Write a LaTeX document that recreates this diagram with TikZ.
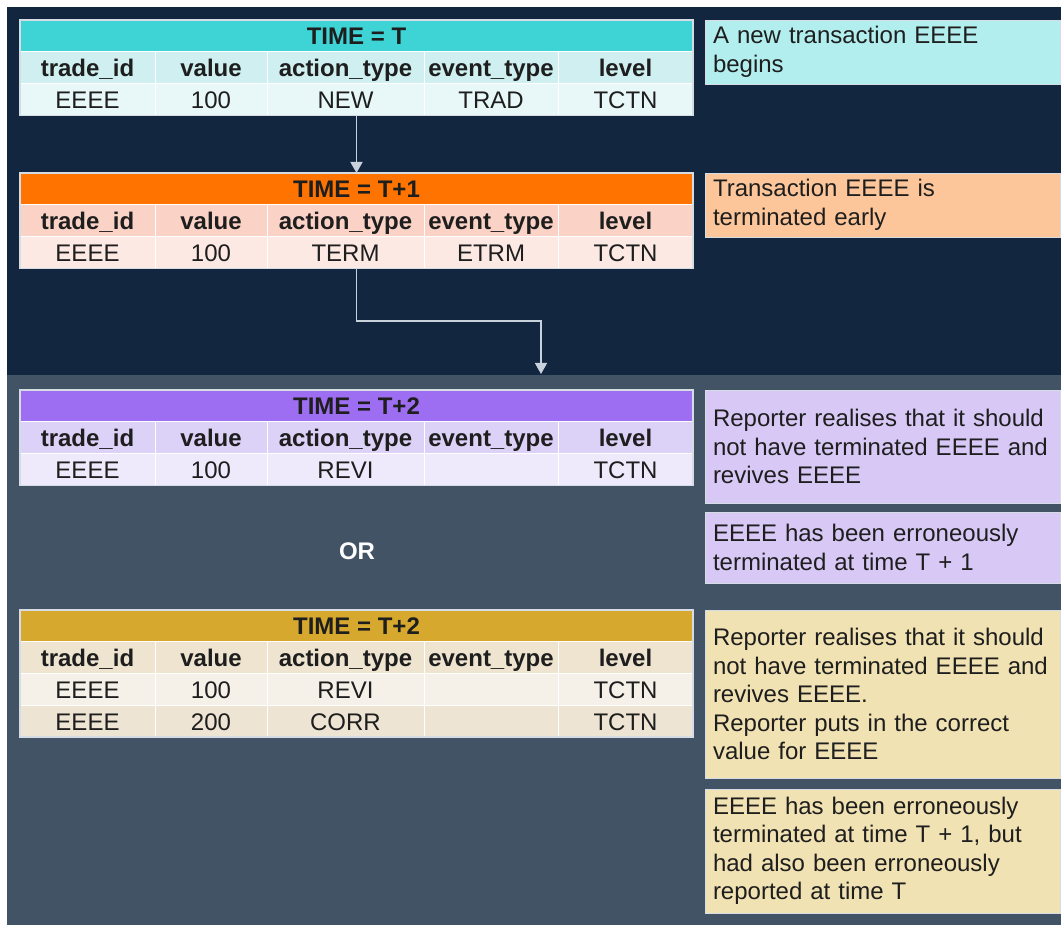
\documentclass[tikz,border=0pt]{standalone}
\usepackage{fontspec}
\setmainfont{Liberation Sans}
\usetikzlibrary{arrows.meta}
\definecolor{navy}{HTML}{12263F}
\definecolor{slate}{HTML}{435366}
\definecolor{txt}{HTML}{1E1E1E}
\definecolor{cyT}{HTML}{3ED3D5}
\definecolor{cyH}{HTML}{CFEFF0}
\definecolor{cyD}{HTML}{E8F7F8}
\definecolor{cyB}{HTML}{B3EEEF}
\definecolor{orT}{HTML}{FF7300}
\definecolor{orH}{HTML}{FAD2C6}
\definecolor{orD}{HTML}{FDE9E4}
\definecolor{orB}{HTML}{FCC69A}
\definecolor{puT}{HTML}{9D6DF2}
\definecolor{puH}{HTML}{DCD1F7}
\definecolor{puD}{HTML}{EFEAFB}
\definecolor{puB}{HTML}{D8C8F6}
\definecolor{goT}{HTML}{D6A82E}
\definecolor{goH}{HTML}{EEE4D0}
\definecolor{goD}{HTML}{F6F1E8}
\definecolor{goE}{HTML}{EEE4D3}
\definecolor{goB}{HTML}{F1E2B3}
\definecolor{arrc}{HTML}{C9D1DC}
\definecolor{frame}{HTML}{D5DCE4}
\newcommand\fz{\fontsize{24}{28.5}\selectfont}
\tikzset{
  cell/.style={rectangle, anchor=north west, inner sep=0pt, outer sep=0pt,
    text height=20pt, text depth=2pt,
    minimum height=31.75pt, draw=white, line width=0.8pt, text=txt},
  tblframe/.style={rectangle, anchor=north west, inner sep=0pt, outer sep=0pt,
    draw=frame, line width=1.2pt, minimum width=673pt},
  note/.style={rectangle, anchor=north west, inner xsep=8pt, inner ysep=0pt,
    outer sep=0pt, minimum width=355pt, text width=339pt, align=left,
    draw=frame, line width=0.8pt, text=txt, font=\fz},
  arr/.style={draw=arrc, line width=1.5pt, -{Triangle[width=12pt,length=11pt]}},
}
% #1 prefix, #2 y, #3 fill, #4 font, #5..#9 cells
\newcommand\trow[9]{%
  \node[cell,fill=#3,font={\fz#4},minimum width=135pt] (#1a) at (20,#2) {#5};
  \node[cell,fill=#3,font={\fz#4},minimum width=112pt] (#1b) at (155,#2) {#6};
  \node[cell,fill=#3,font={\fz#4},minimum width=157pt] (#1c) at (267,#2) {#7};
  \node[cell,fill=#3,font={\fz#4},minimum width=134pt] (#1d) at (424,#2) {#8};
  \node[cell,fill=#3,font={\fz#4},minimum width=135pt] (#1e) at (558,#2) {#9};
}
\begin{document}
\begin{tikzpicture}[x=1pt,y=-1pt]
\useasboundingbox (0,0) rectangle (1061,925);
\fill[white] (0,0) rectangle (1061,925);
\fill[navy] (7,7) rectangle (1061,375);
\fill[slate] (7,375) rectangle (1061,925);

% Table 1
\node[cell,fill=cyT,font={\fz\bfseries},minimum width=673pt] (t1) at (20,20) {TIME = T};
\trow{h1}{51.75}{cyH}{\bfseries}{trade\_id}{value}{action\_type}{event\_type}{level}
\trow{d1}{83.5}{cyD}{}{EEEE}{100}{NEW}{TRAD}{TCTN}
\node[tblframe,minimum height=95.25pt] (T1) at (20,20) {};

% Table 2
\node[cell,fill=orT,font={\fz\bfseries},minimum width=673pt] (t2) at (20,173) {TIME = T+1};
\trow{h2}{204.75}{orH}{\bfseries}{trade\_id}{value}{action\_type}{event\_type}{level}
\trow{d2}{236.5}{orD}{}{EEEE}{100}{TERM}{ETRM}{TCTN}
\node[tblframe,minimum height=95.25pt] (T2) at (20,173) {};

% Table 3
\node[cell,fill=puT,font={\fz\bfseries},minimum width=673pt] (t3) at (20,390) {TIME = T+2};
\trow{h3}{421.75}{puH}{\bfseries}{trade\_id}{value}{action\_type}{event\_type}{level}
\trow{d3}{453.5}{puD}{}{EEEE}{100}{REVI}{}{TCTN}
\node[tblframe,minimum height=95.25pt] (T3) at (20,390) {};

% Table 4
\node[cell,fill=goT,font={\fz\bfseries},minimum width=673pt] (t4) at (20,610) {TIME = T+2};
\trow{h4}{641.75}{goH}{\bfseries}{trade\_id}{value}{action\_type}{event\_type}{level}
\trow{d4}{673.5}{goD}{}{EEEE}{100}{REVI}{}{TCTN}
\trow{e4}{705.25}{goE}{}{EEEE}{200}{CORR}{}{TCTN}
\node[tblframe,minimum height=127pt] (T4) at (20,610) {};

% OR
\node[font={\fz\bfseries},text=white] (or) at (357,551) {OR};

% Notes
\node[note,fill=cyB,minimum height=64pt] (n1) at (705,20) {A new transaction EEEE\\begins};
\node[note,fill=orB,minimum height=64pt] (n2) at (705,173) {Transaction EEEE is\\terminated early};
\node[note,fill=puB,minimum height=113pt] (n3) at (705,390) {Reporter realises that it should\\not have terminated EEEE and\\revives EEEE};
\node[note,fill=puB,minimum height=71pt] (n4) at (705,512) {EEEE has been erroneously\\terminated at time T + 1};
\node[note,fill=goB,minimum height=168pt] (n5) at (705,610) {Reporter realises that it should\\not have terminated EEEE and\\revives EEEE.\\Reporter puts in the correct\\value for EEEE};
\node[note,fill=goB,minimum height=124pt] (n6) at (705,789) {EEEE has been erroneously\\terminated at time T + 1, but\\had also been erroneously\\reported at time T};

% Connectors
\coordinate (bend) at (541,321);
\coordinate (arrend) at (541,374);
\draw[arr] (T1.south) -- (T2.north);
\draw[arr] (T2.south) |- (bend) -- (arrend);
\end{tikzpicture}
\end{document}
